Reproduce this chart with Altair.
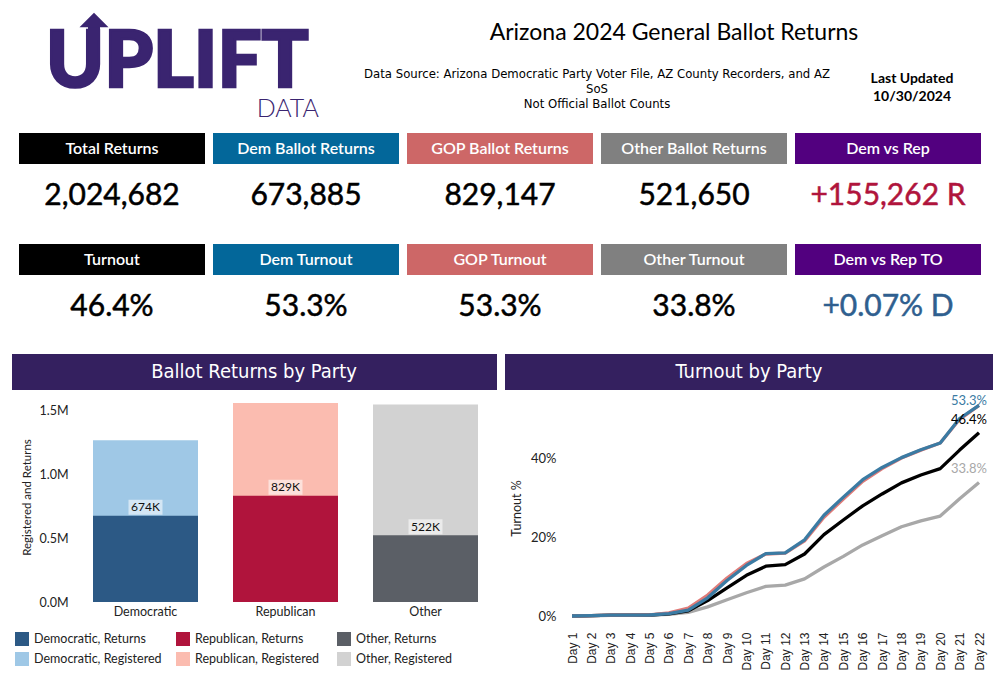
import altair as alt
import pandas as pd

# ---------------- data ----------------
parties = ["Democratic", "Republican", "Other"]
returns = [673885, 829147, 521650]
registered = [1264300, 1555600, 1543300]

days = [f"Day {i}" for i in range(1, 23)]
dem_turnout = [0.0, 0.1, 0.2, 0.2, 0.25, 0.6, 1.5, 4.6, 9.0, 12.8, 15.8, 16.0,
               19.3, 25.5, 30.1, 34.5, 37.6, 40.1, 42.1, 43.8, 50.0, 53.3]
gop_turnout = [0.0, 0.1, 0.2, 0.2, 0.3, 0.8, 2.0, 5.3, 9.6, 13.3, 15.7, 15.9,
               19.0, 25.0, 29.6, 34.1, 37.3, 40.0, 42.0, 43.8, 49.8, 53.3]
total_turnout = [0.0, 0.1, 0.2, 0.2, 0.25, 0.55, 1.3, 3.9, 7.1, 10.3, 12.6, 13.0,
                 15.7, 20.6, 24.3, 27.9, 30.9, 33.7, 35.7, 37.3, 42.0, 46.4]
other_turnout = [0.0, 0.05, 0.15, 0.2, 0.2, 0.4, 0.9, 2.3, 4.1, 5.9, 7.5, 7.8,
                 9.4, 12.4, 15.1, 18.0, 20.3, 22.6, 24.1, 25.3, 29.7, 33.8]
dem_vs_rep_turnout = "+0.07% D"

card_titles_top = ["Total Returns", "Dem Ballot Returns", "GOP Ballot Returns",
                   "Other Ballot Returns", "Dem vs Rep"]
card_titles_bottom = ["Turnout", "Dem Turnout", "GOP Turnout", "Other Turnout",
                      "Dem vs Rep TO"]

# ---------------- styles ----------------
FONT = "Lato"
NARROW = "Liberation Sans Narrow, Arial Narrow, DejaVu Sans Condensed, sans-serif"
SECTION = "#34205f"
LOGO = "#3a2470"
header_fills = ["#000000", "#03679a", "#cd6767", "#808080", "#52007f"]
# legend fills column by column: returns above registered for each party
bar_domain = ["Democratic, Returns", "Democratic, Registered",
              "Republican, Returns", "Republican, Registered",
              "Other, Returns", "Other, Registered"]
bar_colors = ["#2c5985", "#9fc8e6", "#b0143c", "#fbbcb0", "#5b5f66", "#d2d2d2"]
line_domain = ["Democratic", "Republican", "Total", "Other"]
line_colors = ["#3b7ba3", "#e07b78", "#000000", "#a8a8a8"]

BLANK = alt.Data(values=[{}])


def label(text, x, y, **kw):
    return alt.Chart(BLANK).mark_text(text=text, **kw).encode(
        x=alt.value(x), y=alt.value(y))


def box(x, x2, y, y2, color):
    return alt.Chart(BLANK).mark_rect(color=color).encode(
        x=alt.value(x), x2=alt.value(x2), y=alt.value(y), y2=alt.value(y2))


# ---------------- header ----------------
logo = [
    label("UPLIFT", 46, 87, align="left", baseline="alphabetic", font=FONT,
          fontWeight=900, fontSize=78, color=LOGO, stroke=LOGO, strokeWidth=2.5),
    box(88, 100, 25, 40, LOGO),
    alt.Chart(BLANK).mark_point(shape="M-1,0.5L0,-0.5L1,0.5Z", filled=True,
                                size=841, opacity=1, color=LOGO).encode(
        x=alt.value(94), y=alt.value(20)),
    label("DATA", 319, 117, align="right", baseline="alphabetic", font=FONT,
          fontWeight=300, fontSize=25, color=LOGO),
]

titles = [
    label("Arizona 2024 General Ballot Returns", 674, 33, font=FONT, fontSize=23,
          color="#000000"),
    label("Data Source: Arizona Democratic Party Voter File, AZ County Recorders, and AZ",
          597, 74, font=NARROW, fontSize=13, color="#000000"),
    label("SoS", 597, 89, font=NARROW, fontSize=13, color="#000000"),
    label("Not Official Ballot Counts", 597, 104, font=NARROW, fontSize=13,
          color="#000000"),
    label("Last Updated", 912, 79, font=FONT, fontSize=14, fontWeight="bold",
          color="#000000"),
    label("10/30/2024", 912, 97, font=FONT, fontSize=14, fontWeight="bold",
          color="#000000"),
]

# ---------------- KPI cards ----------------
margin = returns[1] - returns[0]
top_values = [f"{sum(returns):,}"] + [f"{v:,}" for v in returns]
top_values.append(f"+{abs(margin):,} {'R' if margin > 0 else 'D'}")
bottom_values = [f"{s[-1]:.1f}%" for s in (total_turnout, dem_turnout, gop_turnout,
                                            other_turnout)] + [dem_vs_rep_turnout]

cards = pd.DataFrame({
    "col": list(range(5)) * 2,
    "row": [0] * 5 + [1] * 5,
    "title": card_titles_top + card_titles_bottom,
    "value": top_values + bottom_values,
    "tone": ["plain"] * 4 + ["rep" if margin > 0 else "dem"] + ["plain"] * 4
            + ["dem" if dem_vs_rep_turnout.endswith("D") else "rep"],
})

card_x = alt.Scale(domain=list(range(5)), range=[19, 981], paddingInner=8 / 194,
                   paddingOuter=0)
card_y = alt.Scale(domain=[0, 1], range=[133, 275], paddingInner=80 / 111,
                   paddingOuter=0)
cx = alt.X("col:O", scale=card_x, axis=None)
cy = alt.Y("row:O", scale=card_y, axis=None)

card_layer = alt.layer(
    alt.Chart(cards).mark_rect().encode(
        x=cx, y=cy,
        color=alt.Color("col:O", scale=alt.Scale(domain=list(range(5)),
                                                 range=header_fills), legend=None)),
    alt.Chart(cards).mark_text(font=FONT, fontSize=16, fontWeight=600,
                               color="white").encode(x=cx, y=cy, text="title:N"),
    alt.Chart(cards).mark_text(font=FONT, fontSize=30, dy=47.5, strokeWidth=0.5).encode(
        x=cx, y=cy, text="value:N",
        color=alt.Color("tone:N", scale=alt.Scale(domain=["plain", "rep", "dem"],
                                                  range=["#000000", "#b0143c", "#2f5f8f"]),
                        legend=None),
        stroke=alt.Stroke("tone:N", scale=alt.Scale(domain=["plain", "rep", "dem"],
                                                    range=["#000000", "#b0143c", "#2f5f8f"]),
                          legend=None)),
).resolve_scale(color="independent")

# ---------------- section headers ----------------
sections = [
    box(12, 497, 354, 390, SECTION),
    box(505, 993, 354, 390, SECTION),
    label("Ballot Returns by Party", 254, 372, font=NARROW, fontSize=20, color="white"),
    label("Turnout by Party", 749, 372, font=NARROW, fontSize=20, color="white"),
]

# ---------------- bar chart ----------------
bar_rows = []
for p, r in zip(parties, registered):
    bar_rows.append({"party": p, "series": f"{p}, Registered", "count": r})
for p, r in zip(parties, returns):
    bar_rows.append({"party": p, "series": f"{p}, Returns", "count": r})
bar_df = pd.DataFrame(bar_rows)
ret_df = pd.DataFrame({"party": parties, "count": returns,
                       "label": [f"{round(v / 1000)}K" for v in returns]})

bar_x = alt.Scale(domain=parties, range=[93, 478], paddingInner=0.25, paddingOuter=0)
bar_y = alt.Scale(domain=[0, 1500000], range=[602, 410], nice=False, zero=True)

bar_layer = alt.layer(
    alt.Chart(bar_df).mark_bar().encode(
        x=alt.X("party:N", scale=bar_x, sort=parties,
                axis=alt.Axis(orient="bottom", offset=-98, title=None, domain=False,
                              ticks=False, labelPadding=3, labelAngle=0,
                              labelFontSize=12.5, labelColor="#222222", labelFont=FONT)),
        y=alt.Y("count:Q", scale=bar_y, stack=None,
                axis=alt.Axis(orient="left", offset=-72, values=[0, 500000, 1000000, 1500000],
                              labelExpr="format(datum.value / 1000000, '.1f') + 'M'",
                              domain=False, ticks=False, grid=False, labelPadding=4,
                              labelFontSize=12.5, labelColor="#222222", labelFont=FONT,
                              title="Registered and Returns", titleFont=FONT,
                              titleFontSize=11.5, titleFontWeight="normal",
                              titleColor="#222222", titleX=-40, titleY=497)),
        color=alt.Color("series:N", scale=alt.Scale(domain=bar_domain, range=bar_colors),
                        legend=alt.Legend(orient="none", legendX=15, legendY=632,
                                          columns=3, title=None, symbolType="square",
                                          symbolSize=196, symbolStrokeWidth=0,
                                          labelFont=FONT, labelFontSize=12.5,
                                          labelColor="#222222", labelOffset=5,
                                          rowPadding=6, columnPadding=14,
                                          gridAlign="all", padding=0)),
        order=alt.Order("count:Q", sort="descending"),
    ),
    alt.Chart(ret_df).mark_bar(width=34, yOffset=-1, y2Offset=-16,
                               color="white", opacity=0.55).encode(
        x=alt.X("party:N", scale=bar_x, sort=parties),
        y=alt.Y("count:Q", scale=bar_y),
        y2="count:Q"),
    alt.Chart(ret_df).mark_text(font=FONT, fontSize=12, dy=-8.5, color="#111111").encode(
        x=alt.X("party:N", scale=bar_x, sort=parties),
        y=alt.Y("count:Q", scale=bar_y),
        text="label:N"),
)

# ---------------- turnout lines ----------------
line_rows = []
for name, series in [("Other", other_turnout), ("Total", total_turnout),
                     ("Republican", gop_turnout), ("Democratic", dem_turnout)]:
    for d, v in zip(days, series):
        line_rows.append({"day": d, "series": name, "pct": v})
line_df = pd.DataFrame(line_rows)

end_df = pd.DataFrame({
    "day": [days[-1]] * 3,
    "series": ["Democratic", "Total", "Other"],
    "pct": [dem_turnout[-1], total_turnout[-1], other_turnout[-1]],
})
end_df["label"] = [f"{v:.1f}%" for v in end_df["pct"]]

line_x = alt.Scale(domain=days, range=[572, 979], padding=0)
line_y = alt.Scale(domain=[0, 55], range=[616, 398.75], nice=False, zero=True)
line_color = alt.Color("series:N", scale=alt.Scale(domain=line_domain, range=line_colors),
                       legend=None)

line_layer = alt.layer(
    alt.Chart(line_df).mark_line(strokeWidth=3.3, strokeJoin="round").encode(
        x=alt.X("day:O", scale=line_x, sort=days,
                axis=alt.Axis(orient="bottom", offset=-80, title=None, domain=False,
                              ticks=False, labelAngle=270, labelPadding=12,
                              labelFont="Liberation Sans, Arial, sans-serif",
                              labelFontSize=12, labelColor="#222222")),
        y=alt.Y("pct:Q", scale=line_y,
                axis=alt.Axis(orient="left", offset=-560, values=[0, 20, 40],
                              labelExpr="datum.value + '%'", domain=False, ticks=False,
                              grid=False, labelPadding=4, labelFont=FONT,
                              labelFontSize=13, labelColor="#222222",
                              title="Turnout %", titleFont=FONT, titleFontSize=12.5,
                              titleFontWeight="normal", titleColor="#222222",
                              titleX=-37, titleY=508)),
        color=line_color,
    ),
    alt.Chart(end_df).transform_filter(alt.datum.series == "Democratic").mark_text(
        font=FONT, fontSize=13, align="right", dx=8, dy=-4).encode(
        x=alt.X("day:O", scale=line_x, sort=days),
        y=alt.Y("pct:Q", scale=line_y),
        text="label:N", color=line_color),
    alt.Chart(end_df).transform_filter(alt.datum.series != "Democratic").mark_text(
        font=FONT, fontSize=13, align="right", dx=8, dy=-13).encode(
        x=alt.X("day:O", scale=line_x, sort=days),
        y=alt.Y("pct:Q", scale=line_y),
        text="label:N", color=line_color),
)

chart = alt.layer(
    *logo, *titles, card_layer, *sections, bar_layer, line_layer
).resolve_scale(
    x="independent", y="independent", color="independent"
).properties(
    width=1000, height=700, padding=0, background="white",
    autosize=alt.AutoSizeParams(type="none"),
).configure_view(strokeWidth=0)

chart.save("out.html", embed_options={"renderer": "svg", "actions": False})
